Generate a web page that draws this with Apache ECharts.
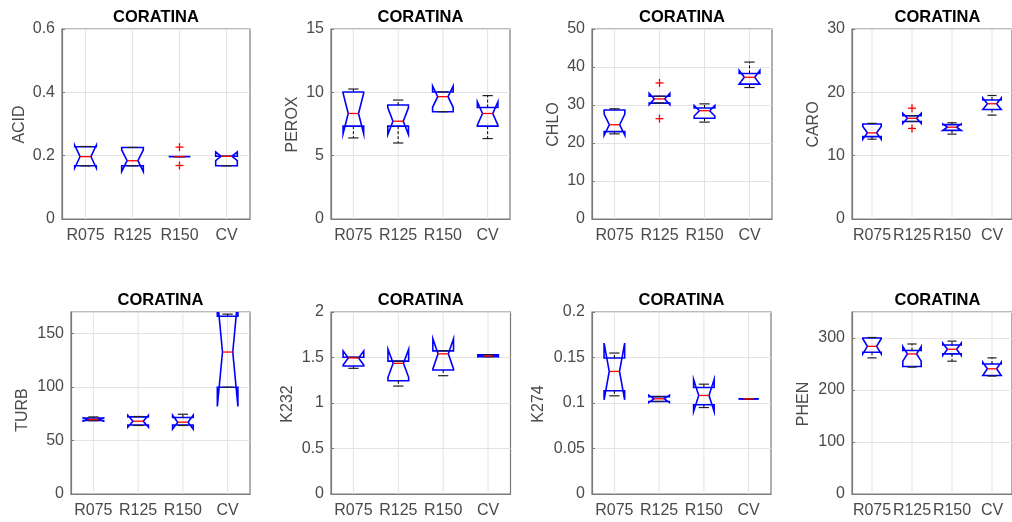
<!DOCTYPE html>
<html>
<head>
<meta charset="utf-8">
<script src="https://cdn.jsdelivr.net/npm/echarts@6/dist/echarts.min.js"></script>
<style>
  html, body { margin: 0; padding: 0; background: #fff; }
  #chart { width: 1012px; height: 522px; }
</style>
</head>
<body>
<div id="chart"></div>
<script>
// notched boxplots, 2 x 4 panels
const categories = ['R075', 'R125', 'R150', 'CV'];
const panelTitle = 'CORATINA';

// each row: [whiskerLow, q1, median, q3, whiskerHigh, notchLow, notchHigh]
const acidBox = [
  [0.168, 0.168, 0.197, 0.228, 0.229, 0.161, 0.233],
  [0.168, 0.168, 0.184, 0.226, 0.226, 0.150, 0.218],
  [0.197, 0.197, 0.197, 0.197, 0.197, 0.197, 0.197],
  [0.168, 0.168, 0.198, 0.198, 0.198, 0.184, 0.212]
];
const acidOutliers = [['R150', 0.227], ['R150', 0.169]];

const peroxBox = [
  [6.4, 7.33, 8.33, 10.03, 10.26, 6.73, 9.93],
  [6.0, 7.33, 7.72, 9.0, 9.39, 6.67, 8.77],
  [8.47, 8.47, 9.66, 10.03, 10.03, 8.82, 10.5],
  [6.35, 7.33, 8.33, 8.8, 9.74, 7.4, 9.26]
];
const peroxOutliers = [];

const chloBox = [
  [22.4, 23.0, 24.8, 28.7, 29.0, 22.0, 27.6],
  [30.5, 30.5, 31.6, 32.3, 32.3, 30.1, 33.1],
  [25.5, 26.5, 28.5, 29.2, 30.3, 27.1, 29.9],
  [34.6, 35.5, 37.3, 38.3, 41.3, 35.5, 39.1]
];
const chloOutliers = [['R125', 35.8], ['R125', 26.4]];

const caroBox = [
  [12.6, 13.0, 13.6, 15.0, 15.1, 12.6, 14.6],
  [15.4, 15.4, 15.9, 16.3, 16.3, 15.1, 16.7],
  [13.4, 14.0, 14.5, 14.9, 15.2, 14.0, 15.0],
  [16.4, 17.3, 18.2, 18.8, 19.5, 17.3, 19.1]
];
const caroOutliers = [['R125', 17.5], ['R125', 14.3]];

const turbBox = [
  [68.5, 68.7, 69.6, 71.0, 72.0, 68.1, 71.1],
  [64.0, 64.5, 68.0, 72.0, 72.4, 62.5, 73.5],
  [64.0, 64.5, 67.1, 71.5, 74.5, 60.6, 73.6],
  [99.7, 99.7, 132.6, 166, 168, 81.7, 183.5]
];
const turbOutliers = [];

const k232Box = [
  [1.381, 1.407, 1.495, 1.503, 1.503, 1.417, 1.573],
  [1.186, 1.245, 1.436, 1.46, 1.46, 1.282, 1.59],
  [1.30, 1.363, 1.54, 1.573, 1.573, 1.375, 1.705],
  [1.508, 1.508, 1.517, 1.53, 1.53, 1.507, 1.527]
];
const k232Outliers = [];

const k274Box = [
  [0.1079, 0.1134, 0.1347, 0.1494, 0.1549, 0.1035, 0.1659],
  [0.1017, 0.1017, 0.1046, 0.107, 0.107, 0.1006, 0.1086],
  [0.095, 0.098, 0.1083, 0.117, 0.1207, 0.0906, 0.126],
  [0.1043, 0.1043, 0.1045, 0.1047, 0.1047, 0.1043, 0.1047]
];
const k274Outliers = [];

const phenBox = [
  [261.8, 272.6, 284, 300, 301, 269.4, 298.6],
  [244, 245.2, 269.4, 276, 288.5, 255.4, 283.4],
  [255.4, 269.4, 278.3, 286.6, 294, 266.6, 290],
  [226.8, 228, 240.8, 250, 261.8, 228, 253.5]
];
const phenOutliers = [];

// y axis ranges
const yNames = ['ACID', 'PEROX', 'CHLO', 'CARO', 'TURB', 'K232', 'K274', 'PHEN'];
const yMax = [0.6, 15, 50, 30, 170, 2, 0.2, 350];
const yInterval = [0.2, 5, 10, 10, 50, 0.5, 0.05, 100];
const boxes = [acidBox, peroxBox, chloBox, caroBox, turbBox, k232Box, k274Box, phenBox];
const outliers = [acidOutliers, peroxOutliers, chloOutliers, caroOutliers,
  turbOutliers, k232Outliers, k274Outliers, phenOutliers];

// layout: [left, top, width, height, nameX, nameY]
const layout = [
  [62, 29, 188, 190, 19.5, 124.5],
  [331, 29, 179, 190, 292.5, 124.5],
  [592, 29, 180, 190, 553.3, 124.5],
  [852, 29, 171, 190, 813.3, 124.5],
  [71, 312, 179, 182, 23, 410],
  [331, 312, 179.5, 182, 288, 404],
  [592, 312, 179, 182, 538.8, 404],
  [852, 312, 171, 182, 803.3, 404]
];

const BOX_W = 0.46;
const AXIS_COLOR = '#7a7a7a';
const LABEL_COLOR = '#4a4a4a';
const GRID_COLOR = '#e3e3e3';
const FONT = 'Liberation Sans, Arial, sans-serif';

const chart = echarts.init(document.getElementById('chart'));

function boxRenderer(min, max) {
  return function (params, api) {
    const i = api.value(0);
    const [lo, q1, med, q3, hi, nlo, nhi] = [1, 2, 3, 4, 5, 6, 7].map(k => api.value(k));
    const band = api.coord([1, med])[0] - api.coord([0, med])[0];
    const hw = band * BOX_W / 2;
    const cx = api.coord([i, med])[0];
    const y = v => api.coord([i, v])[1];
    const blue = { stroke: '#0000ff', fill: null, lineWidth: 1.6 };
    return {
      type: 'group',
      children: [
        { type: 'line', shape: { x1: cx, y1: y(min), x2: cx, y2: y(max) },
          style: { stroke: GRID_COLOR, lineWidth: 1 } },
        { type: 'polygon', shape: { points: [
            [cx - hw, y(q1)], [cx - hw, y(nlo)], [cx - hw / 2, y(med)], [cx - hw, y(nhi)],
            [cx - hw, y(q3)], [cx + hw, y(q3)], [cx + hw, y(nhi)], [cx + hw / 2, y(med)],
            [cx + hw, y(nlo)], [cx + hw, y(q1)]
          ] }, style: blue },
        { type: 'line', shape: { x1: cx, y1: y(q3), x2: cx, y2: y(hi) },
          style: { stroke: '#000', lineWidth: 1, lineDash: [3, 2] } },
        { type: 'line', shape: { x1: cx, y1: y(q1), x2: cx, y2: y(lo) },
          style: { stroke: '#000', lineWidth: 1, lineDash: [3, 2] } },
        { type: 'line', shape: { x1: cx - hw / 2, y1: y(hi), x2: cx + hw / 2, y2: y(hi) },
          style: { stroke: '#222', lineWidth: 1.2 } },
        { type: 'line', shape: { x1: cx - hw / 2, y1: y(lo), x2: cx + hw / 2, y2: y(lo) },
          style: { stroke: '#222', lineWidth: 1.2 } },
        { type: 'line', shape: { x1: cx - hw / 2, y1: y(med), x2: cx + hw / 2, y2: y(med) },
          style: { stroke: '#ff0000', lineWidth: 1.3 } }
      ]
    };
  };
}

function plusRenderer(params, api) {
  const p = api.coord([api.value(0), api.value(1)]);
  const s = 4;
  return {
    type: 'group',
    children: [
      { type: 'line', shape: { x1: p[0] - s, y1: p[1], x2: p[0] + s, y2: p[1] },
        style: { stroke: '#ff0000', lineWidth: 1.3 } },
      { type: 'line', shape: { x1: p[0], y1: p[1] - s, x2: p[0], y2: p[1] + s },
        style: { stroke: '#ff0000', lineWidth: 1.3 } }
    ]
  };
}

const grid = [], xAxis = [], yAxis = [], series = [], graphic = [];

layout.forEach((l, k) => {
  const [left, top, width, height, nameX, nameY] = l;
  grid.push({ left, top, width, height, show: true, borderColor: AXIS_COLOR, borderWidth: 1.2,
    backgroundColor: '#fff' });
  xAxis.push({
    type: 'category', gridIndex: k, data: categories, boundaryGap: true,
    axisLine: { lineStyle: { color: AXIS_COLOR, width: 1.2 } },
    axisTick: { inside: true, length: 3, alignWithLabel: true, lineStyle: { color: AXIS_COLOR } },
    axisLabel: { color: LABEL_COLOR, fontSize: 16, fontFamily: FONT, margin: 9, interval: 0 },
    splitLine: { show: false }
  });
  yAxis.push({
    type: 'value', gridIndex: k, min: 0, max: yMax[k], interval: yInterval[k],
    axisLine: { show: true, lineStyle: { color: AXIS_COLOR, width: 1.2 } },
    axisTick: { show: true, inside: true, length: 3, lineStyle: { color: AXIS_COLOR } },
    axisLabel: { color: LABEL_COLOR, fontSize: 16, fontFamily: FONT, margin: 7,
      showMaxLabel: yMax[k] % yInterval[k] < 1e-9 || yInterval[k] - (yMax[k] % yInterval[k]) < 1e-9 },
    splitLine: { show: true, lineStyle: { color: GRID_COLOR, width: 1 } }
  });
  series.push({
    type: 'custom', xAxisIndex: k, yAxisIndex: k, clip: true,
    renderItem: boxRenderer(0, yMax[k]),
    data: boxes[k].map((b, i) => [i].concat(b)),
    encode: { x: 0, y: [1, 2, 3, 4, 5] }
  });
  series.push({
    type: 'custom', xAxisIndex: k, yAxisIndex: k, clip: true,
    renderItem: plusRenderer,
    data: outliers[k].map(o => [categories.indexOf(o[0]), o[1]]),
    encode: { x: 0, y: 1 }
  });
  graphic.push({
    type: 'text', x: left + width / 2, y: top - 11.5,
    style: { text: panelTitle, fill: '#000', font: 'bold 16.5px ' + FONT,
      textAlign: 'center', textVerticalAlign: 'middle' }
  });
  graphic.push({
    type: 'text', x: nameX, y: nameY, rotation: Math.PI / 2,
    style: { text: yNames[k], fill: LABEL_COLOR, font: '16px ' + FONT,
      textAlign: 'center', textVerticalAlign: 'middle' }
  });
});

chart.setOption({
  animation: false,
  backgroundColor: '#fff',
  grid, xAxis, yAxis, series, graphic
});
</script>
</body>
</html>
